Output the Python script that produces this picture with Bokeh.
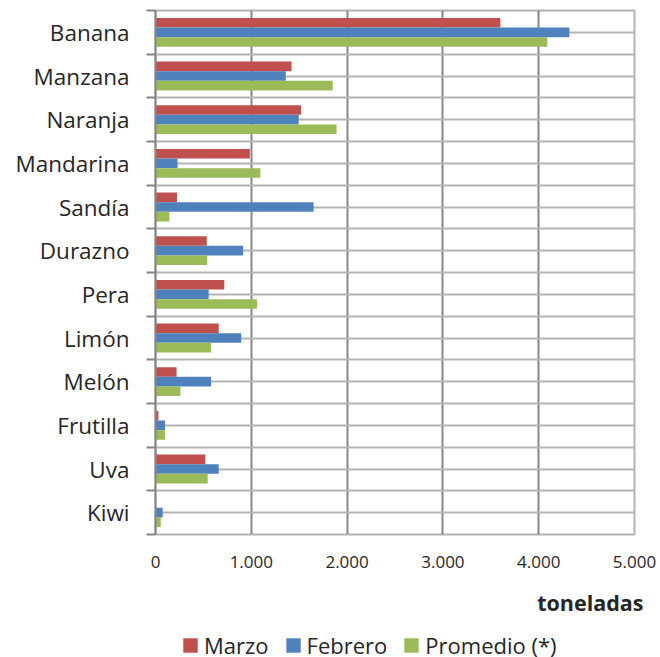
import numpy as np
from bokeh.plotting import figure
from bokeh.layouts import column
from bokeh.models import ColumnDataSource, Range1d, FixedTicker, Legend, LegendItem, Title
from bokeh.transform import dodge
from bokeh.embed import file_html
from bokeh.resources import INLINE

categories = ["Banana", "Manzana", "Naranja", "Mandarina", "Sandía", "Durazno",
              "Pera", "Limón", "Melón", "Frutilla", "Uva", "Kiwi"]
marzo = [3600, 1420, 1520, 985, 225, 535, 718, 660, 220, 30, 520, 0]
febrero = [4320, 1360, 1495, 230, 1650, 915, 555, 895, 580, 100, 660, 75]
promedio = [4090, 1850, 1890, 1095, 145, 540, 1060, 580, 260, 100, 545, 55]
x_ticks = [0, 1000, 2000, 3000, 4000, 5000]
x_tick_labels = ["0", "1.000", "2.000", "3.000", "4.000", "5.000"]
series_names = ["Marzo", "Febrero", "Promedio (*)"]
colors = ["#C0504D", "#4F81BD", "#9BBB59"]

n = len(categories)
pos = [n - 1 - i for i in range(n)]
source = ColumnDataSource(dict(cat=categories, pos=pos, marzo=marzo,
                               febrero=febrero, promedio=promedio))

FONT = "Open Sans"
TXT = "#262626"

p = figure(width=660, height=634, output_backend="svg", toolbar_location=None,
           x_range=Range1d(0, 5000), y_range=Range1d(-0.5, n - 0.5),
           min_border_left=155, min_border_right=26, min_border_top=10,
           min_border_bottom=100)

p.outline_line_color = "#b4b4b4"
p.outline_line_width = 2

# grids
p.xgrid.ticker = FixedTicker(ticks=x_ticks)
p.xgrid.grid_line_color = "#878787"
p.xgrid.grid_line_width = 2
p.ygrid.ticker = FixedTicker(ticks=list(np.arange(-0.5, n, 0.5)))
p.ygrid.grid_line_color = "#b4b4b4"
p.ygrid.grid_line_width = 2

bar_h = 0.22
offsets = [bar_h, 0.0, -bar_h]
fields = ["marzo", "febrero", "promedio"]
for f, off, c in zip(fields, offsets, colors):
    p.hbar(y=dodge("pos", off), right=f, left=0, height=bar_h,
           source=source, fill_color=c, line_color=None)

# x axis
p.xaxis.ticker = FixedTicker(ticks=x_ticks)
p.xaxis.major_label_overrides = {t: l for t, l in zip(x_ticks, x_tick_labels)}
p.xaxis.axis_line_color = None
p.xaxis.major_tick_line_color = None
p.xaxis.minor_tick_line_color = None
p.xaxis.major_label_text_font = FONT
p.xaxis.major_label_text_font_size = "17px"
p.xaxis.major_label_text_color = TXT
p.xaxis.major_label_standoff = 15

# y axis
boundaries = [b - 0.5 for b in range(n + 1)]
p.yaxis.ticker = FixedTicker(ticks=pos, minor_ticks=boundaries)
p.yaxis.major_label_overrides = {pp: c for pp, c in zip(pos, categories)}
p.yaxis.axis_line_color = "#868686"
p.yaxis.axis_line_width = 2
p.yaxis.major_tick_line_color = None
p.yaxis.major_tick_out = 0
p.yaxis.major_tick_in = 0
p.yaxis.minor_tick_line_color = "#868686"
p.yaxis.minor_tick_line_width = 2
p.yaxis.minor_tick_out = 9
p.yaxis.minor_tick_in = 0
p.yaxis.major_label_text_font = FONT
p.yaxis.major_label_text_font_size = "22.5px"
p.yaxis.major_label_text_color = TXT
p.yaxis.major_label_standoff = 17

p.add_layout(Title(text="toneladas", align="right", offset=-9, standoff=31,
                   text_font=FONT, text_font_style="bold", text_font_size="21.5px",
                   text_color=TXT), "below")

# legend strip (its frame is aligned with the main frame by the column layout)
lg = figure(width=660, height=23, output_backend="svg", toolbar_location=None,
            x_range=Range1d(0, 5000), y_range=Range1d(1000, 1001),
            x_axis_location=None, y_axis_location=None,
            min_border=0, min_border_left=0, min_border_right=0,
            min_border_top=0, min_border_bottom=0)
lg.outline_line_color = None
lg.grid.visible = False
legend_renderers = [lg.hbar(y="pos", right=f, left=0, height=bar_h, source=source,
                            fill_color=c, line_color=None)
                    for f, c in zip(fields, colors)]
legend = Legend(items=[LegendItem(label=s, renderers=[r]) for s, r in zip(series_names, legend_renderers)],
                orientation="horizontal", location=(26, -3), padding=0, margin=0,
                border_line_color=None, background_fill_alpha=0,
                glyph_width=18, glyph_height=18, label_standoff=5, spacing=15,
                label_text_font=FONT, label_text_font_size="22px",
                label_text_color=TXT)
lg.add_layout(legend)

layout = column(p, lg, spacing=0)
open("out.html", "w").write(file_html(layout, INLINE))
